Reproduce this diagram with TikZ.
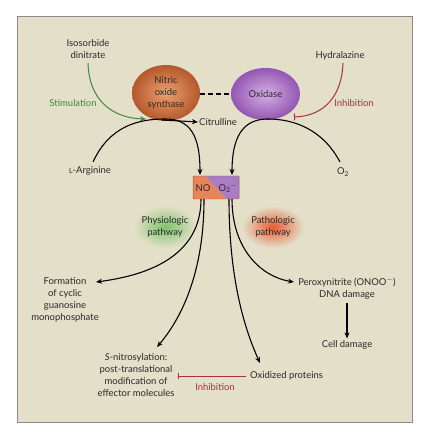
\documentclass[tikz,border=0pt]{standalone}
\usepackage{fontspec}
\setmainfont{Lato}
\usetikzlibrary{arrows.meta,shapes.geometric,calc}
\definecolor{bg}{HTML}{E3DFC8}
\definecolor{frame}{HTML}{8A8A8A}
\definecolor{stimgreen}{HTML}{3F8A3A}
\definecolor{inhred}{HTML}{A83236}
\definecolor{txt}{HTML}{2A2A2A}
\definecolor{noorange}{HTML}{E8845A}
\definecolor{oxpurple}{HTML}{A97CC4}
\definecolor{nosin}{HTML}{EDA070}
\definecolor{nosout}{HTML}{B4582C}
\definecolor{oxin}{HTML}{D6AEE4}
\definecolor{oxout}{HTML}{9356B2}
\definecolor{glowgreen}{HTML}{7CC46C}
\definecolor{glowred}{HTML}{EA5A34}
\tikzset{
  lbl/.style={font=\fontsize{9.5}{12}\selectfont, text=txt, align=center, inner sep=1pt},
  flow/.style={line width=1.1pt, draw=black, -{Stealth[length=6pt,width=5pt]}},
  stim/.style={line width=1pt, draw=stimgreen, -{Stealth[length=6pt,width=5pt]}},
  inh/.style={line width=1pt, draw=inhred, -{Bar[width=7pt]}},
}
\begin{document}
\begin{tikzpicture}[x=1bp,y=-1bp]
\useasboundingbox (0,0) rectangle (430,440);
\fill[white] (0,0) rectangle (430,440);
\draw[frame, fill=bg, line width=1pt] (17,17) rectangle (412,422);

% glows
\shade[inner color=glowgreen, outer color=bg] (165,227) ellipse (31 and 21);
\shade[inner color=glowred, outer color=bg] (273,227) ellipse (31 and 21);
\node[lbl] (phys) at (165,227) {Physiologic\\pathway};
\node[lbl] (path) at (273,227) {Pathologic\\pathway};

% enzymes
\shade[inner color=nosin, outer color=nosout] (166,93) ellipse (34 and 28);
\node[lbl] (nos) at (166,93) {Nitric\\oxide\\synthase};
\shade[inner color=oxin, outer color=oxout] (265.5,94) ellipse (34.5 and 26);
\node[lbl] (ox) at (265.5,94) {Oxidase};
\coordinate (nosE) at (200,94);
\coordinate (oxW) at (231,94);
\draw[line width=1.3pt, dash pattern=on 5pt off 3pt] (nosE) -- (oxW);

% labels
\node[lbl] (iso) at (88,49) {Isosorbide\\dinitrate};
\node[lbl] (hyd) at (340,56) {Hydralazine};
\node[lbl, text=stimgreen] (stimtxt) at (73,103) {Stimulation};
\node[lbl, text=inhred] (inhtxt) at (354,103) {Inhibition};
\node[lbl] (arg) at (90,171) {{\fontsize{7}{8}\selectfont L}-Arginine};
\node[lbl] (o2) at (343,172) {O\textsubscript{2}};
\node[lbl, anchor=west] (cit) at (198,122) {Citrulline};

% NO / O2- box
\coordinate (bTL) at (193,176);
\coordinate (bBR) at (239,199);
\fill[noorange] (193,176) -- (205,176) -- (227,199) -- (193,199) -- cycle;
\fill[oxpurple] (205,176) -- (239,176) -- (239,199) -- (227,199) -- cycle;
\draw[draw=noorange!70!black, line width=0.5pt, rounded corners=1pt] (bTL) rectangle (bBR);
\node[lbl] (no) at (203,188) {NO};
\node[lbl] (o2m) at (228,188) {O\textsubscript{2}\textsuperscript{$-$}};
\coordinate (noTop) at (200,175);
\coordinate (o2Top) at (232,175);

% curves top
\coordinate (isoS) at (88,63);
\coordinate (hydS) at (343,63);
\coordinate (stimEnd) at (146,119);
\coordinate (inhEnd) at (294,117);
\draw[stim] (isoS) .. controls (89,100) and (112,118) .. (stimEnd);
\draw[inh] (hydS) .. controls (342,95) and (325,116) .. (inhEnd);
\coordinate (argS) at (93,162);
\coordinate (o2S) at (340,162);
\draw[flow] (argS) .. controls (110,125) and (140,119) .. (165,119)
   .. controls (190,119) and (200,135) .. (noTop);
\draw[flow] (162,120) -- (cit.west);
\draw[flow] (o2S) .. controls (322,128) and (292,119) .. (268,119)
   .. controls (242,119) and (232,138) .. (o2Top);

% bottom texts
\node[lbl] (cgmp) at (65,300) {Formation\\of cyclic\\guanosine\\monophosphate};
\node[lbl] (snit) at (136,375) {\textit{S}-nitrosylation:\\post-translational\\modification of\\effector molecules};
\node[lbl] (perox) at (347,288) {Peroxynitrite (ONOO\textsuperscript{$-$})\\DNA damage};
\node[lbl] (cell) at (347,345) {Cell damage};
\node[lbl, anchor=west] (oxprot) at (249,376) {Oxidized proteins};
\node[lbl, text=inhred] (inh2) at (215,387) {Inhibition};

\coordinate (b1) at (201,199);
\coordinate (b2) at (204,199);
\coordinate (b3) at (229,199);
\coordinate (b4) at (232,199);
\draw[flow] (b1) .. controls (201,255) and (150,275) .. (96,282);
\draw[flow] (b2) .. controls (204,275) and (180,320) .. (157,347);
\draw[flow] (b4) .. controls (232,250) and (262,277) .. (294,282);
\draw[flow] (b3) .. controls (229,280) and (245,330) .. (260,363);
\draw[flow] (perox.south) ++(0,3) -- ($(cell.north)+(0,-1)$);
\draw[inh] (oxprot.west) ++(-3,0) -- (178,376);
\end{tikzpicture}
\end{document}
